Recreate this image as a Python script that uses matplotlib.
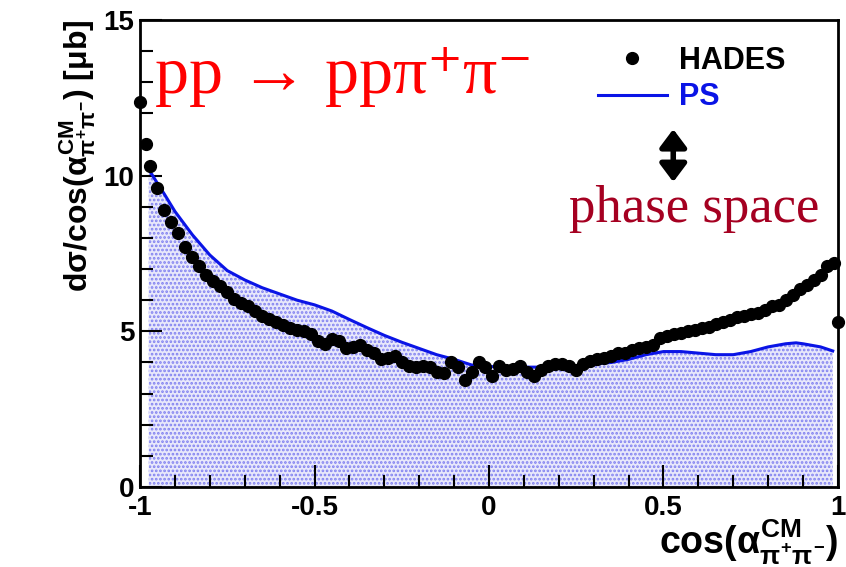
import numpy as np
import matplotlib
matplotlib.use("Agg")
import matplotlib.pyplot as plt
from matplotlib.lines import Line2D
from matplotlib.ticker import MultipleLocator, FuncFormatter

# HADES data points (cos alpha_CM of pi+pi-)
hades_x = [-1.0, -0.983] + list(np.round(np.arange(-0.97, 1.0, 0.02), 2)) + [1.0]
hades_y = [12.35, 11.0,
           10.3, 9.6, 8.9, 8.5, 8.15, 7.7, 7.4, 7.1, 6.8, 6.6,
           6.45, 6.25, 6.05, 5.9, 5.8, 5.65, 5.5, 5.4, 5.3, 5.2,
           5.1, 5.05, 5.0, 4.9, 4.7, 4.6, 4.75, 4.7, 4.45, 4.5,
           4.55, 4.4, 4.3, 4.1, 4.15, 4.2, 4.0, 3.9, 3.85, 3.9,
           3.85, 3.7, 3.65, 4.0, 3.85, 3.45, 3.7, 4.0, 3.85, 3.55,
           3.9, 3.75, 3.8, 3.9, 3.7, 3.55, 3.75, 3.9, 3.95, 3.95,
           3.9, 3.75, 3.95, 4.05, 4.1, 4.15, 4.2, 4.3, 4.3, 4.4,
           4.45, 4.5, 4.55, 4.8, 4.85, 4.9, 4.95, 5.0, 5.05, 5.1,
           5.15, 5.25, 5.3, 5.35, 5.45, 5.5, 5.55, 5.6, 5.7, 5.8,
           5.85, 6.0, 6.15, 6.35, 6.5, 6.65, 6.8, 7.1, 7.2,
           5.3]

# phase space simulation
ps_x = [-0.975, -0.95, -0.93, -0.9, -0.85, -0.8, -0.75, -0.7, -0.65, -0.6,
        -0.55, -0.5, -0.45, -0.4, -0.35, -0.3, -0.25, -0.2, -0.15, -0.1,
        -0.05, 0.0, 0.05, 0.1, 0.15, 0.2, 0.25, 0.3, 0.35, 0.4,
        0.45, 0.5, 0.55, 0.6, 0.65, 0.7, 0.75, 0.8, 0.85, 0.88,
        0.9, 0.95, 0.985]
ps_y = [10.2, 9.75, 9.4, 8.85, 8.1, 7.45, 6.95, 6.65, 6.4, 6.2,
        6.0, 5.85, 5.65, 5.38, 5.12, 4.87, 4.65, 4.45, 4.25, 4.1,
        3.92, 3.87, 3.85, 3.85, 3.85, 3.86, 3.9, 3.95, 4.0, 4.1,
        4.25, 4.35, 4.35, 4.3, 4.25, 4.25, 4.35, 4.5, 4.6, 4.63,
        4.6, 4.5, 4.37]

plt.rcParams['font.family'] = ['Liberation Sans', 'DejaVu Sans']
plt.rcParams['mathtext.fontset'] = 'custom'
plt.rcParams['mathtext.rm'] = 'Liberation Sans:bold'
plt.rcParams['mathtext.it'] = 'Liberation Sans:bold'
plt.rcParams['mathtext.bf'] = 'Liberation Sans:bold'
plt.rcParams['hatch.linewidth'] = 1.3

fig = plt.figure(figsize=(8.46, 5.67), dpi=100)
ax = fig.add_axes([0.1655, 0.141, 0.825, 0.824])

ax.fill_between(ps_x, 0, ps_y, facecolor='#e8e8fb', edgecolor='#8080f0',
                hatch='....', linewidth=0)
ax.plot(ps_x, ps_y, color='#0a14e6', lw=2.2)
ax.plot(hades_x, hades_y, 'o', color='black', ms=8.5, clip_on=False, zorder=5)

ax.set_xlim(-1, 1)
ax.set_ylim(0, 15)
ax.xaxis.set_major_locator(MultipleLocator(0.5))
ax.xaxis.set_minor_locator(MultipleLocator(0.1))
ax.yaxis.set_major_locator(MultipleLocator(5))
ax.yaxis.set_minor_locator(MultipleLocator(1))
ax.xaxis.set_major_formatter(FuncFormatter(lambda v, p: '%g' % v))
ax.yaxis.set_major_formatter(FuncFormatter(lambda v, p: '%g' % v))
ax.tick_params(which='both', direction='in', top=False, right=False, width=1.5)
ax.tick_params(which='major', length=16)
ax.tick_params(which='minor', length=9)
ax.tick_params(axis='both', labelsize=20)
ax.tick_params(axis='x', pad=6)
ax.tick_params(axis='y', pad=4)
for lb in ax.get_xticklabels() + ax.get_yticklabels():
    lb.set_fontweight('bold')
for s in ax.spines.values():
    s.set_linewidth(2)

ax.set_ylabel(r'd$\sigma$/cos($\alpha^{\rm CM}_{\pi^{+}\pi^{-}}$) [$\mu$b]',
              fontsize=23, fontweight='bold', loc='top')
ax.yaxis.set_label_coords(-0.06, 1.0)
ax.set_xlabel(r'cos($\alpha^{\rm CM}_{\pi^{+}\pi^{-}}$)', fontsize=27,
              fontweight='bold', loc='right')
ax.xaxis.set_label_coords(1.0, -0.066)

handles = [Line2D([], [], marker='o', ls='none', color='black', ms=8.5),
           Line2D([], [], color='#0a14e6', lw=2.2)]
leg = ax.legend(handles, ['HADES', 'PS'], loc='upper left', frameon=False,
                bbox_to_anchor=(0.656, 0.945), borderpad=0, borderaxespad=0,
                handlelength=2.25, handletextpad=0.42, labelspacing=0.22,
                prop={'family': 'Liberation Sans', 'weight': 'bold', 'size': 22})
leg.get_texts()[1].set_color('#0a14e6')

ax.text(0.0215, 0.844, 'pp \u2192 pp\u03c0\u207a\u03c0\u207b', transform=ax.transAxes,
        color='red', fontsize=49, family=['Liberation Serif', 'DejaVu Serif'],
        va='baseline')
ax.annotate('', xy=(0.764, 0.653), xytext=(0.764, 0.766), xycoords='axes fraction',
            arrowprops=dict(arrowstyle='<|-|>,head_width=0.45,head_length=0.6',
                            color='black', lw=4, mutation_scale=18,
                            shrinkA=0, shrinkB=0))
ax.text(0.794, 0.567, 'phase space', transform=ax.transAxes, color='#a50021',
        fontsize=38, family='Liberation Serif', va='baseline', ha='center')

fig.savefig('out.png', dpi=100)
